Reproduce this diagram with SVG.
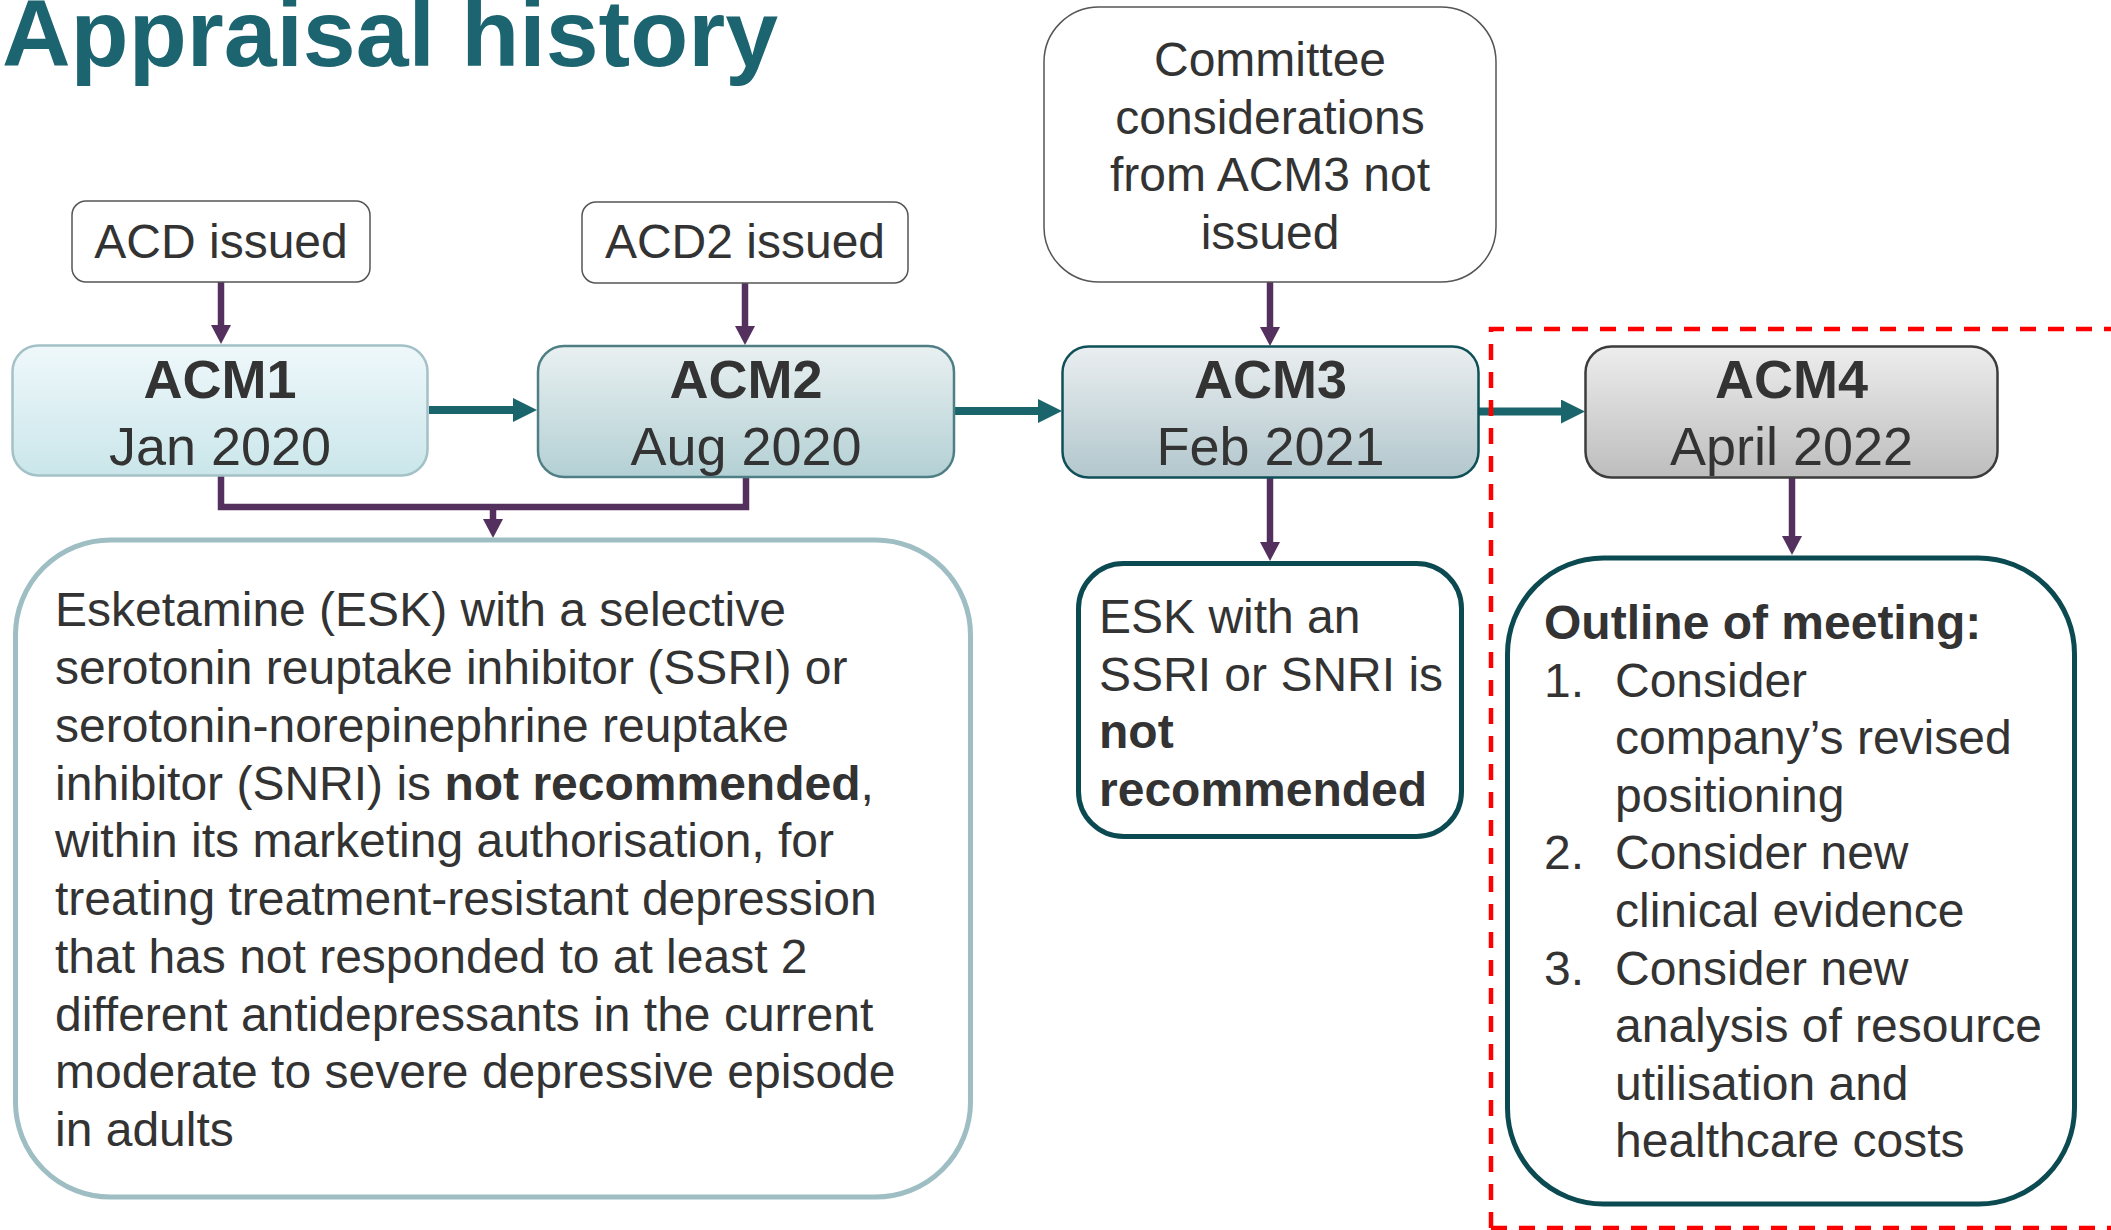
<svg xmlns="http://www.w3.org/2000/svg" width="2111" height="1230" viewBox="0 0 2111 1230">
<defs>
<style>
text{font-family:"Liberation Sans",Arial,sans-serif;fill:#333333}
.title{font-size:95px;font-weight:bold;fill:#1B6470}
.t48{font-size:48px}
.acm{font-size:54px;text-anchor:middle}
.b{font-weight:bold}
.mid{text-anchor:middle}
.small{fill:#ffffff;stroke:#555555;stroke-width:1.5}
.acmbox{stroke-width:2.5}
.pur{fill:none;stroke:#54305F;stroke-width:6.5}
.teal{fill:none;stroke:#1A646C;stroke-width:8}
.res{fill:#ffffff;stroke-width:5}
</style>
<linearGradient id="g1" x1="0" y1="0" x2="0" y2="1"><stop offset="0" stop-color="#EFF8FB"/><stop offset="1" stop-color="#CAE6EA"/></linearGradient>
<linearGradient id="g2" x1="0" y1="0" x2="0" y2="1"><stop offset="0" stop-color="#E9F0F1"/><stop offset="1" stop-color="#B3D0D4"/></linearGradient>
<linearGradient id="g3" x1="0" y1="0" x2="0" y2="1"><stop offset="0" stop-color="#EAEEF0"/><stop offset="1" stop-color="#B2C7CD"/></linearGradient>
<linearGradient id="g4" x1="0" y1="0" x2="0" y2="1"><stop offset="0" stop-color="#EDEDED"/><stop offset="1" stop-color="#BDBDBD"/></linearGradient>
<marker id="pa" markerUnits="userSpaceOnUse" markerWidth="19" markerHeight="20" refX="0" refY="10" orient="auto" viewBox="0 0 19 20"><path d="M0,0 L19,10 L0,20 z" fill="#54305F"/></marker>
<marker id="ta" markerUnits="userSpaceOnUse" markerWidth="24" markerHeight="24" refX="0" refY="12" orient="auto" viewBox="0 0 24 24"><path d="M0,0 L24,12 L0,24 z" fill="#1A646C"/></marker>
</defs>
<rect width="2111" height="1230" fill="#ffffff"/>
<text class="title" x="2" y="66">Appraisal history</text>

<g id="connectors">
<path class="pur" d="M221,282 V325" marker-end="url(#pa)"/>
<path class="pur" d="M745,283 V326" marker-end="url(#pa)"/>
<path class="pur" d="M1270,282 V327" marker-end="url(#pa)"/>
<path class="pur" d="M221,476 V507 H746 V477"/>
<path class="pur" d="M493,507 V519" marker-end="url(#pa)"/>
<path class="pur" d="M1270,478 V542" marker-end="url(#pa)"/>
<path class="pur" d="M1792,478 V536" marker-end="url(#pa)"/>
<path class="teal" d="M429,410 H513" marker-end="url(#ta)"/>
<path class="teal" d="M955,411 H1038" marker-end="url(#ta)"/>
<path class="teal" d="M1479,411.5 H1561" marker-end="url(#ta)"/>
</g>

<g id="acd">
<rect class="small" x="72" y="201" width="298" height="81" rx="14"/>
<text class="t48 mid" x="221" y="258">ACD issued</text>
</g>
<g id="acd2">
<rect class="small" x="582" y="202" width="326" height="81" rx="14"/>
<text class="t48 mid" x="745" y="258">ACD2 issued</text>
</g>
<g id="committee">
<rect class="small" x="1044" y="7" width="452" height="275" rx="55"/>
<text class="t48 mid" x="1270" y="76">Committee</text>
<text class="t48 mid" x="1270" y="134">considerations</text>
<text class="t48 mid" x="1270" y="191">from ACM3 not</text>
<text class="t48 mid" x="1270" y="249">issued</text>
</g>

<g id="acm1">
<rect class="acmbox" x="12.5" y="345.5" width="415" height="130" rx="26" fill="url(#g1)" stroke="#A3C1C6"/>
<text class="acm b" x="220" y="398">ACM1</text>
<text class="acm" x="220" y="465">Jan 2020</text>
</g>
<g id="acm2">
<rect class="acmbox" x="538" y="346" width="416" height="131" rx="26" fill="url(#g2)" stroke="#4F7F85"/>
<text class="acm b" x="746" y="398">ACM2</text>
<text class="acm" x="746" y="465">Aug 2020</text>
</g>
<g id="acm3">
<rect class="acmbox" x="1062.5" y="346.5" width="416" height="131" rx="26" fill="url(#g3)" stroke="#0F5058"/>
<text class="acm b" x="1270.5" y="398">ACM3</text>
<text class="acm" x="1270.5" y="465">Feb 2021</text>
</g>
<g id="acm4">
<rect class="acmbox" x="1585.5" y="346.5" width="412" height="131" rx="26" fill="url(#g4)" stroke="#3C3C3C"/>
<text class="acm b" x="1791.5" y="398">ACM4</text>
<text class="acm" x="1791.5" y="465">April 2022</text>
</g>

<g id="result1">
<rect class="res" x="15.5" y="540" width="955" height="657" rx="95" stroke="#9EBEC3"/>
<text class="t48" x="55" y="626">Esketamine (ESK) with a selective</text>
<text class="t48" x="55" y="684">serotonin reuptake inhibitor (SSRI) or</text>
<text class="t48" x="55" y="742">serotonin-norepinephrine reuptake</text>
<text class="t48" x="55" y="800">inhibitor (SNRI) is <tspan class="b">not recommended</tspan>,</text>
<text class="t48" x="55" y="857">within its marketing authorisation, for</text>
<text class="t48" x="55" y="915">treating treatment-resistant depression</text>
<text class="t48" x="55" y="973">that has not responded to at least 2</text>
<text class="t48" x="55" y="1031">different antidepressants in the current</text>
<text class="t48" x="55" y="1088">moderate to severe depressive episode</text>
<text class="t48" x="55" y="1146">in adults</text>
</g>

<g id="result3">
<rect class="res" x="1078.5" y="563.5" width="383" height="273" rx="45" stroke="#0C4A52"/>
<text class="t48" x="1099" y="633">ESK with an</text>
<text class="t48" x="1099" y="691">SSRI or SNRI is</text>
<text class="t48 b" x="1099" y="748">not</text>
<text class="t48 b" x="1099" y="806">recommended</text>
</g>

<g id="outline">
<rect class="res" x="1507.5" y="558" width="567" height="646" rx="96" stroke="#0C4A52"/>
<text class="t48 b" x="1544" y="639">Outline of meeting:</text>
<text class="t48" x="1544" y="697">1.</text>
<text class="t48" x="1615" y="697">Consider</text>
<text class="t48" x="1615" y="754">company’s revised</text>
<text class="t48" x="1615" y="812">positioning</text>
<text class="t48" x="1544" y="869">2.</text>
<text class="t48" x="1615" y="869">Consider new</text>
<text class="t48" x="1615" y="927">clinical evidence</text>
<text class="t48" x="1544" y="985">3.</text>
<text class="t48" x="1615" y="985">Consider new</text>
<text class="t48" x="1615" y="1042">analysis of resource</text>
<text class="t48" x="1615" y="1100">utilisation and</text>
<text class="t48" x="1615" y="1157">healthcare costs</text>
</g>

<g id="acm4-frame">
<path d="M1491,1228 V329 H2111 M1491,1228 H2111" fill="none" stroke="#FF0000" stroke-width="4.5" stroke-dasharray="16 12"/>
</g>
</svg>
